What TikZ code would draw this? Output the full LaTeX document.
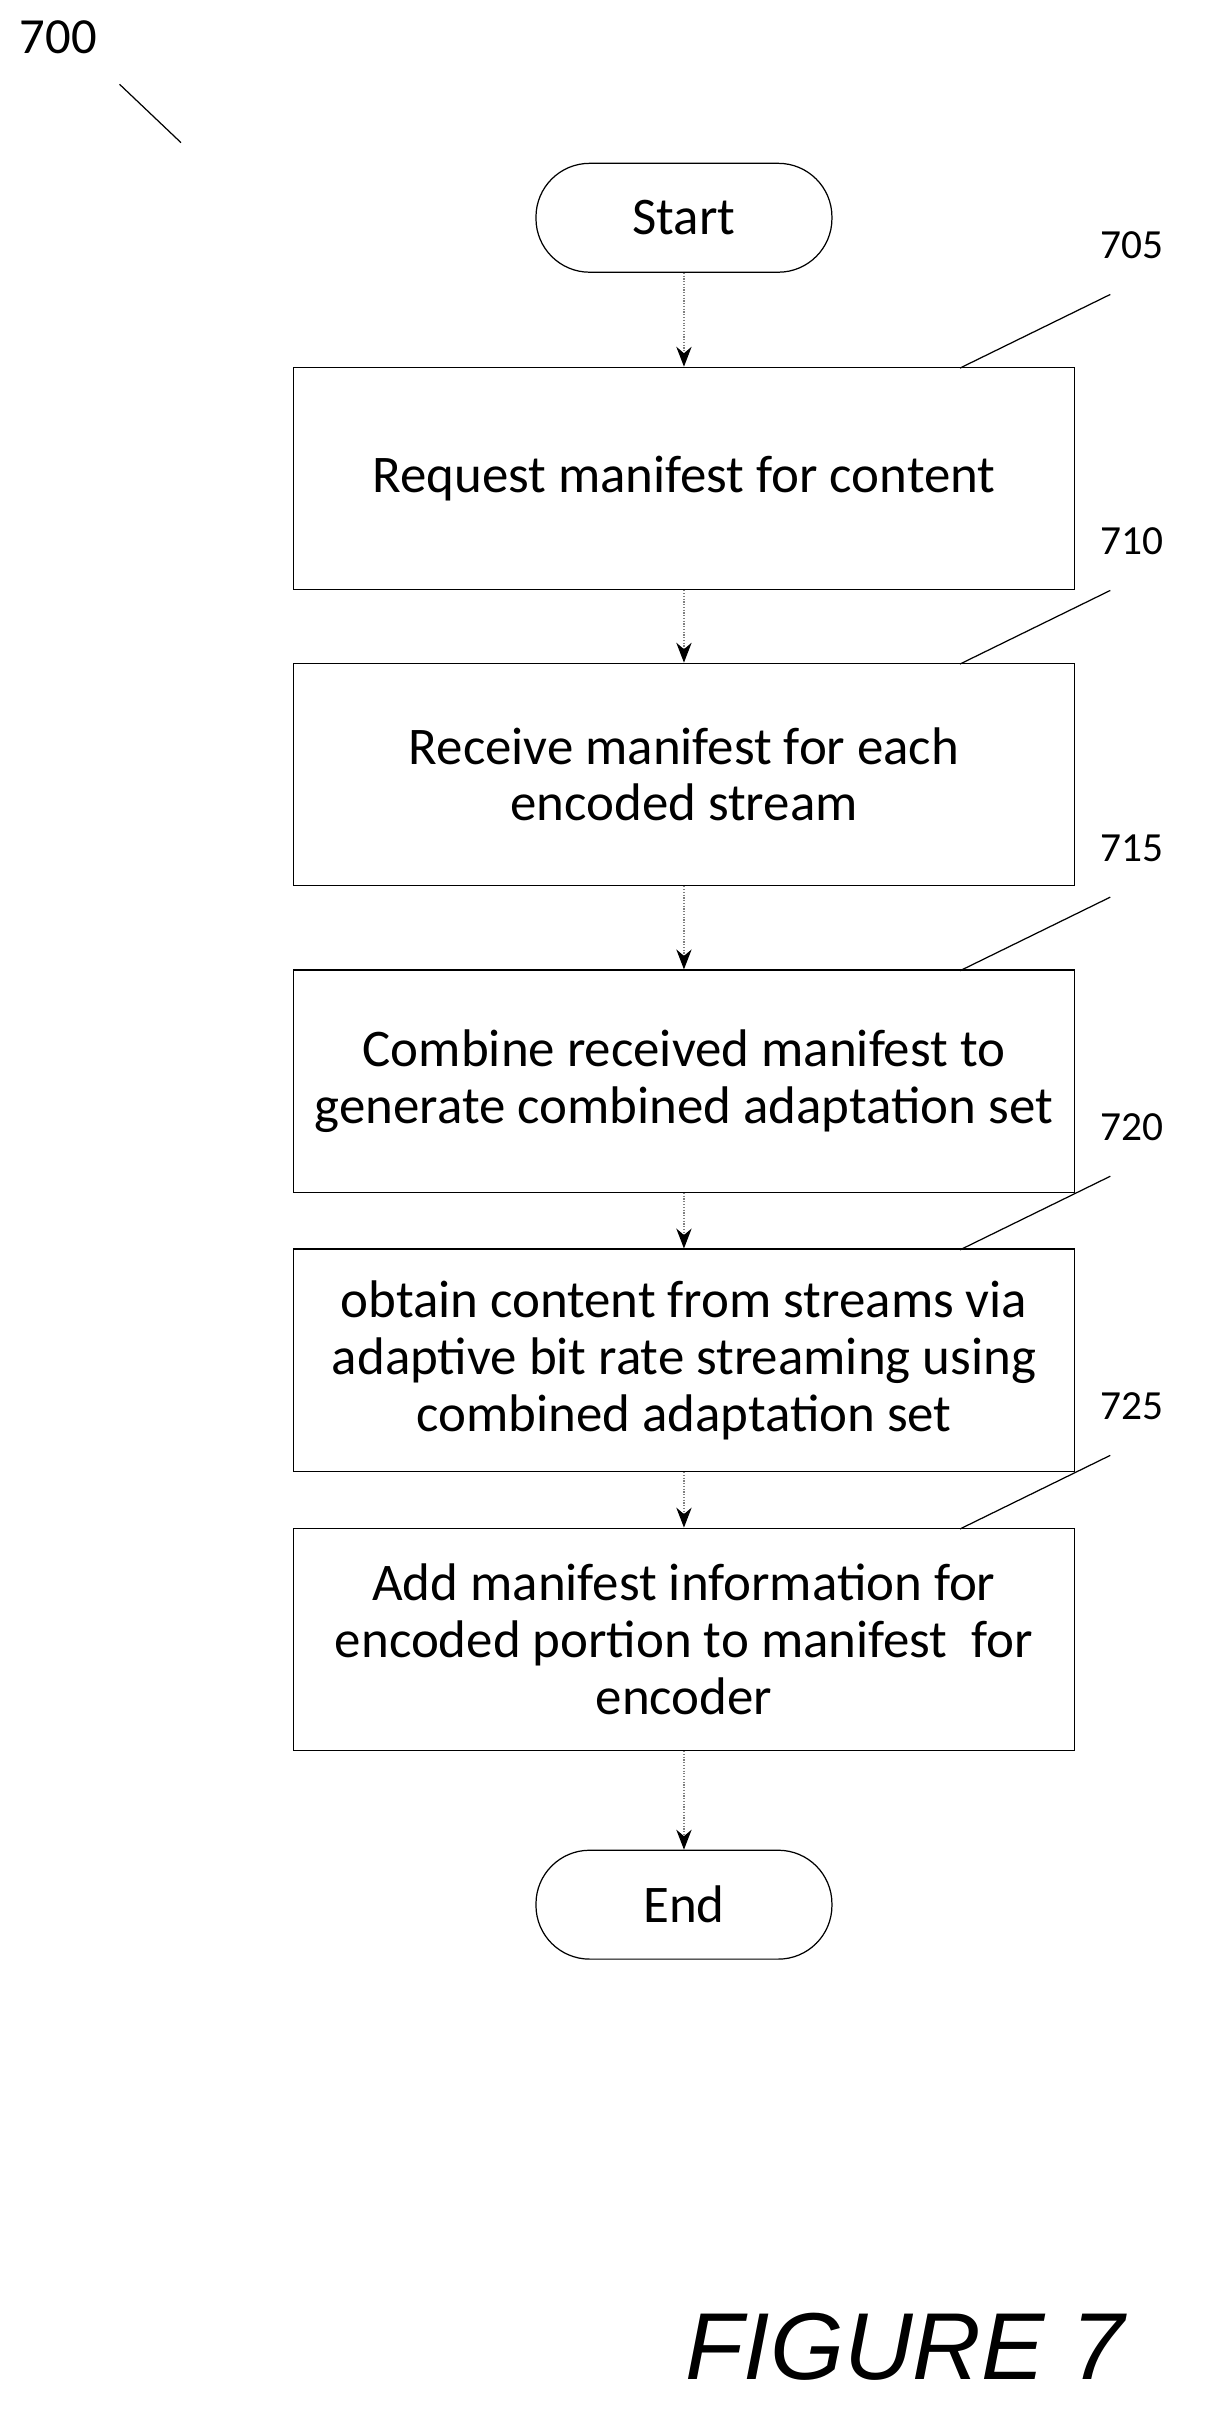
\documentclass[tikz,border=0pt]{standalone}
\usepackage{fontspec}
\setmainfont{Carlito}
\newfontfamily\figfont{Liberation Sans}
\usetikzlibrary{arrows.meta}
\tikzset{
  stepbox/.style={draw, line width=0.8pt, minimum width=509pt, minimum height=145pt, align=center, font=\fontsize{34.5}{37}\selectfont},
  term/.style={draw, line width=0.8pt, rounded corners=35pt, minimum width=193pt, minimum height=71pt, font=\fontsize{34.5}{37}\selectfont},
  flow/.style={draw=gray, line width=0.8pt, densely dotted, -{Stealth[length=13pt,width=10pt,black]}},
  lead/.style={line width=0.8pt},
  num/.style={font=\fontsize{27}{30}\selectfont}
}
\begin{document}
\begin{tikzpicture}[x=1pt,y=-1pt]
\useasboundingbox (0,0) rectangle (800,1580);
% figure number
\node[num, font=\fontsize{33}{36}\selectfont] (n700) at (38,24) {700};
\coordinate (p700a) at (78,55);
\coordinate (p700b) at (118,93);
\draw[lead] (p700a) -- (p700b);
% start / end
\node[term] (start) at (446,142) {Start};
\node[term] (end) at (446,1242) {End};
% steps
\node[stepbox] (s705) at (446,312) {Request manifest for content};
\node[stepbox] (s710) at (446,505) {Receive manifest for each\\encoded stream};
\node[stepbox] (s715) at (446,705) {Combine received manifest to\\generate combined adaptation set};
\node[stepbox] (s720) at (446,887) {obtain content from streams via\\adaptive bit rate streaming using\\combined adaptation set};
\node[stepbox] (s725) at (446,1069) {Add manifest information for\\encoded portion to manifest\ \ for\\encoder};
% labels with leaders
\foreach \n/\y in {705/240,710/433,715/633,720/815,725/997}{
  \node[num] (l\n) at (738,\y-80) {\n};
  \coordinate (c\n) at (724,\y-48);
  \draw[lead] (626,\y) -- (c\n);
}
% connectors
\draw[flow] (start) -- (s705);
\draw[flow] (s705) -- (s710);
\draw[flow] (s710) -- (s715);
\draw[flow] (s715) -- (s720);
\draw[flow] (s720) -- (s725);
\draw[flow] (s725) -- (end);
\node[font=\figfont\itshape\fontsize{62}{70}\selectfont] (fig) at (590,1530) {FIGURE 7};
\end{tikzpicture}
\end{document}
